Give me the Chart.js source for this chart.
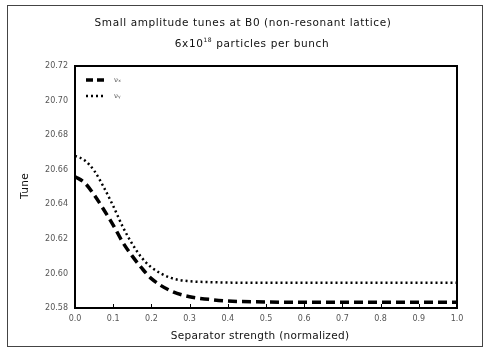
<!DOCTYPE html>
<html>
<head>
<meta charset="utf-8">
<script src="https://cdn.jsdelivr.net/npm/chart.js@4"></script>
<style>
  html, body { margin: 0; padding: 0; background: #fff; }
  #wrap { width: 489px; height: 356px; position: relative; }
</style>
</head>
<body>
<div id="wrap"><canvas id="tunes"></canvas></div>
<script>
// separator strength (normalized)
const strength = [0, 0.025, 0.05, 0.075, 0.1, 0.125, 0.15, 0.175, 0.2, 0.25, 0.3, 0.35, 0.4, 0.5, 0.6, 0.7, 0.8, 0.9, 1.0];
// tunes
const nuX = [20.656, 20.6525, 20.6455, 20.637, 20.628, 20.618, 20.610, 20.603, 20.597, 20.590, 20.5865, 20.585, 20.584, 20.5835, 20.5833, 20.5833, 20.5833, 20.5833, 20.5833];
const nuY = [20.668, 20.6655, 20.6595, 20.650, 20.639, 20.627, 20.617, 20.609, 20.6035, 20.5975, 20.5955, 20.595, 20.5947, 20.5946, 20.5946, 20.5946, 20.5946, 20.5946, 20.5946];
const seriesNames = ["\u03bd\u2093", "\u03bd\u1d67"];
const xTicks = [0, 0.1, 0.2, 0.3, 0.4, 0.5, 0.6, 0.7, 0.8, 0.9, 1.0];
const yTicks = [20.58, 20.60, 20.62, 20.64, 20.66, 20.68, 20.70, 20.72];

const font = "'DejaVu Sans', sans-serif";

// titles, axis titles, frame, legend drawn by hand
const decor = {
  id: "decor",
  afterDraw(chart) {
    const { ctx, chartArea: a } = chart;
    const xs = chart.scales.x;
    ctx.save();
    // outer frame
    ctx.strokeStyle = "#444";
    ctx.lineWidth = 1;
    ctx.strokeRect(7.5, 5.5, 475, 341);
    // plot box
    ctx.strokeStyle = "#000";
    ctx.lineWidth = 2;
    ctx.strokeRect(a.left, a.top, a.right - a.left, a.bottom - a.top);
    // inward x ticks
    ctx.lineWidth = 1;
    xTicks.forEach((v) => {
      const px = Math.round(xs.getPixelForValue(v)) + 0.5;
      ctx.beginPath();
      ctx.moveTo(px, a.bottom);
      ctx.lineTo(px, a.bottom - 4);
      ctx.stroke();
    });

    ctx.fillStyle = "#111";
    ctx.textBaseline = "middle";
    ctx.textAlign = "left";
    ctx.font = "10.5px " + font;
    const t1 = "Small amplitude tunes at B0 (non-resonant lattice)";
    ctx.letterSpacing = "0.6px";
    let w = ctx.measureText(t1).width;
    ctx.fillText(t1, 243 - w / 2, 23);
    // second line with superscript exponent
    const p1 = "6x10", p2 = "18", p3 = " particles per bunch";
    const w1 = ctx.measureText(p1).width;
    ctx.font = "6px " + font;
    const w2 = ctx.measureText(p2).width;
    ctx.font = "10.5px " + font;
    const w3 = ctx.measureText(p3).width;
    let x0 = 252 - (w1 + w2 + w3) / 2;
    ctx.fillText(p1, x0, 44);
    ctx.font = "6px " + font;
    ctx.fillText(p2, x0 + w1, 40);
    ctx.font = "10.5px " + font;
    ctx.fillText(p3, x0 + w1 + w2, 44);
    ctx.letterSpacing = "0.3px";
    const t3 = "Separator strength (normalized)";
    w = ctx.measureText(t3).width;
    ctx.fillText(t3, 260 - w / 2, 336);
    ctx.save();
    ctx.translate(25, 186);
    ctx.rotate(-Math.PI / 2);
    w = ctx.measureText("Tune").width;
    ctx.fillText("Tune", -w / 2, 0);
    ctx.restore();
    ctx.letterSpacing = "0px";

    // legend
    const rows = [
      { y: 80, dash: [7, 4], w: 3.5 },
      { y: 96, dash: [2, 3], w: 2.5 }
    ];
    rows.forEach((r, i) => {
      ctx.beginPath();
      ctx.setLineDash(r.dash);
      ctx.lineWidth = r.w;
      ctx.moveTo(86, r.y);
      ctx.lineTo(106, r.y);
      ctx.stroke();
      ctx.setLineDash([]);
      ctx.font = "7px " + font;
      ctx.fillStyle = "#555";
      ctx.fillText(seriesNames[i], 114, r.y);
    });
    ctx.restore();
  }
};

new Chart(document.getElementById("tunes"), {
  type: "line",
  data: {
    datasets: [
      {
        label: seriesNames[0],
        data: strength.map((x, i) => ({ x, y: nuX[i] })),
        borderColor: "#000",
        borderWidth: 3.5,
        borderDash: [9, 5],
        pointRadius: 0,
        cubicInterpolationMode: "monotone"
      },
      {
        label: seriesNames[1],
        data: strength.map((x, i) => ({ x, y: nuY[i] })),
        borderColor: "#000",
        borderWidth: 2.5,
        borderDash: [2, 3],
        pointRadius: 0,
        cubicInterpolationMode: "monotone"
      }
    ]
  },
  options: {
    responsive: true,
    maintainAspectRatio: false,
    animation: false,
    layout: { padding: { top: 66, right: 32, left: 0, bottom: 0 } },
    plugins: { legend: { display: false }, tooltip: { enabled: false } },
    scales: {
      x: {
        type: "linear",
        min: 0,
        max: 1,
        afterFit: (s) => { s.height = 48; },
        afterBuildTicks: (s) => { s.ticks = xTicks.map((v) => ({ value: v })); },
        grid: { display: false, drawTicks: false },
        border: { display: false },
        ticks: {
          color: "#555",
          font: { family: font, size: 8 },
          padding: 6,
          maxRotation: 0,
          callback: (v) => v.toFixed(1)
        }
      },
      y: {
        min: 20.58,
        max: 20.72,
        afterFit: (s) => { s.width = 75; },
        afterBuildTicks: (s) => { s.ticks = yTicks.map((v) => ({ value: v })); },
        grid: { display: false, drawTicks: true, tickLength: 4, tickColor: "#000" },
        border: { display: false },
        ticks: {
          color: "#555",
          font: { family: font, size: 8 },
          padding: 3,
          callback: (v) => v.toFixed(2)
        }
      }
    }
  },
  plugins: [decor]
});
</script>
</body>
</html>
